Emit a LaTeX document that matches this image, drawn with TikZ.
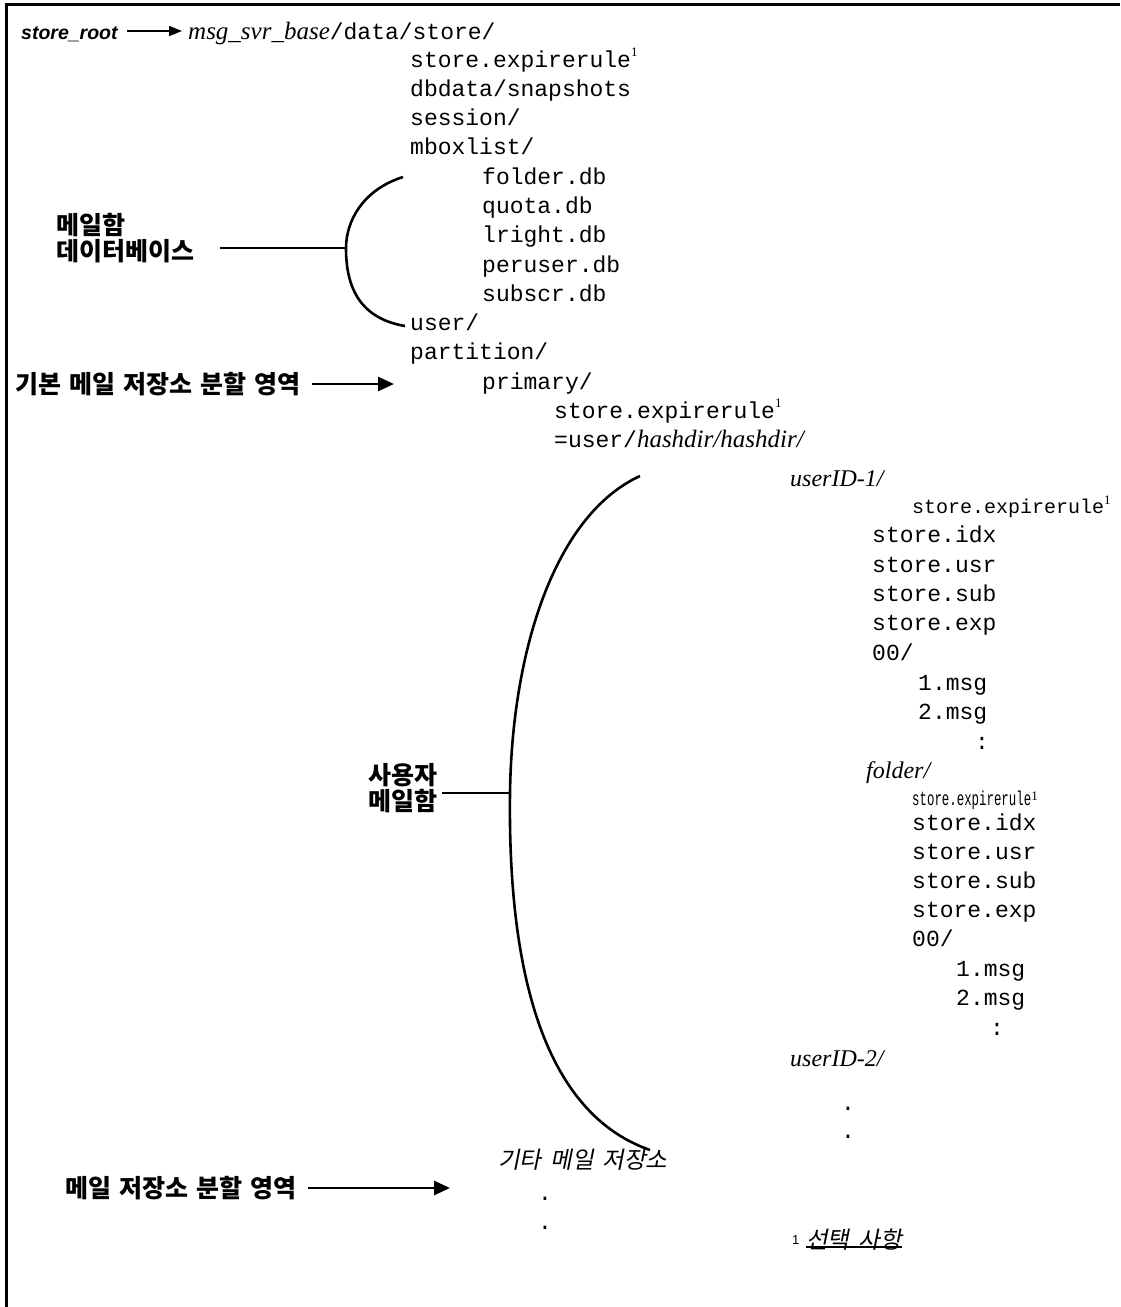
\documentclass[tikz,border=0pt]{standalone}
\usepackage{fontspec}
\usetikzlibrary{arrows.meta}
\newfontfamily\monof{Liberation Mono}
\newfontfamily\serf{Liberation Serif}
\newfontfamily\sansf{Liberation Sans}
\newfontfamily\krf{Noto Sans CJK KR}
\newfontfamily\krif[FakeSlant=0.2]{Noto Sans CJK KR}
\newcommand\supone{\raisebox{0.45em}{\serf\fontsize{13}{13}\selectfont 1}}
\newcommand\ksp{\hspace{8pt}}
\newcommand\isp{\hspace{9pt}}
\tikzset{
  mono/.style={font=\monof\fontsize{23}{23}\selectfont, anchor=base west, inner sep=0pt},
  monosm/.style={font=\monof\fontsize{20}{20}\selectfont, anchor=base west, inner sep=0pt},
  ital/.style={font=\serf\itshape\fontsize{24}{24}\selectfont, anchor=base west, inner sep=0pt},
  krlab/.style={font=\krf\bfseries\fontsize{25}{26}\selectfont, inner sep=0pt, align=left},
  krit/.style={font=\krif\fontsize{23.5}{23.5}\selectfont, anchor=base west, inner sep=0pt},
  brace/.style={line width=2.6pt},
  conn/.style={line width=2.6pt},
  bigarr/.style={line width=2.8pt, -{Triangle[length=16pt,width=14pt]}},
  smarr/.style={line width=1.8pt, -{Triangle[length=13pt,width=10pt]}},
}
\begin{document}
\begin{tikzpicture}[x=1pt,y=-1pt]
\useasboundingbox (0,0) rectangle (1120,1307);
\draw[line width=3pt] (6,1307) -- (6,4) -- (1120,4);

% first line
\node[font=\sansf\bfseries\itshape\fontsize{19.5}{19.5}\selectfont, anchor=base west, inner sep=0pt] (root) at (21,39) {store\_root};
\node[anchor=base west, inner sep=0pt] (base) at (188,39) {{\serf\itshape\fontsize{25}{25}\selectfont msg\_svr\_base}{\monof\fontsize{23}{23}\selectfont/data/store/}};
\draw[smarr] ([xshift=9pt]root.east |- 0,31) -- ([xshift=-6pt]base.west |- 0,31);

% store listing
\node[mono] (l1) at (410,67) {store.expirerule\supone};
\node[mono] (l2) at (410,96) {dbdata/snapshots};
\node[mono] (l3) at (410,125) {session/};
\node[mono] (l4) at (410,154) {mboxlist/};
\node[mono] (l5) at (482,184) {folder.db};
\node[mono] (l6) at (482,213) {quota.db};
\node[mono] (l7) at (482,242) {lright.db};
\node[mono] (l8) at (482,272) {peruser.db};
\node[mono] (l9) at (482,301) {subscr.db};
\node[mono] (l10) at (410,330) {user/};
\node[mono] (l11) at (410,359) {partition/};
\node[mono] (l12) at (482,389) {primary/};
\node[mono] (l13) at (554,418) {store.expirerule\supone};
\node[mono] (l14) at (554,447) {=user/{\serf\itshape\fontsize{25}{25}\selectfont hashdir/hashdir/}};

% userID-1
\node[ital] (u1) at (790,486) {userID-1/};
\node[monosm] (u1a) at (912,513) {store.expirerule\supone};
\node[mono] (u1b) at (872,542) {store.idx};
\node[mono] (u1c) at (872,572) {store.usr};
\node[mono] (u1d) at (872,601) {store.sub};
\node[mono] (u1e) at (872,630) {store.exp};
\node[mono] (u1f) at (872,660) {00/};
\node[mono] (u1g) at (918,690) {1.msg};
\node[mono] (u1h) at (918,719) {2.msg};
\node[mono] (u1i) at (975,749) {:};

% folder
\node[ital] (f0) at (866,778) {folder/};
\node[anchor=base west, inner sep=0pt] (f1) at (912,805) {\scalebox{0.62}[1]{\monof\fontsize{20}{20}\selectfont store.expirerule}\supone};
\node[mono] (f2) at (912,830) {store.idx};
\node[mono] (f3) at (912,859) {store.usr};
\node[mono] (f4) at (912,888) {store.sub};
\node[mono] (f5) at (912,917) {store.exp};
\node[mono] (f6) at (912,946) {00/};
\node[mono] (f7) at (956,976) {1.msg};
\node[mono] (f8) at (956,1005) {2.msg};
\node[mono] (f9) at (990,1035) {:};

% userID-2
\node[ital] (u2) at (790,1066) {userID-2/};
\node[mono] (d1) at (841,1110) {.};
\node[mono] (d2) at (841,1138) {.};

% other stores
\node[krit] (other) at (498,1168) {기타\isp 메일\isp 저장소};
\node[mono] (d3) at (538,1200) {.};
\node[mono] (d4) at (538,1229) {.};

% footnote
\node[anchor=base west, inner sep=0pt, font=\sansf\fontsize{13}{13}\selectfont] (fn) at (792,1244) {1};
\node[krit] (opt) at (806,1248) {선택\isp 사항};
\draw[line width=1.3pt] ([yshift=3pt]opt.south west) -- ([yshift=3pt]opt.south east);

% mailbox database label & brace
\node[krlab, anchor=west] (dblab) at (56,238) {메일함\\데이터베이스};
\coordinate (b1t) at (403,177);
\coordinate (b1m) at (346,248);
\coordinate (b1b) at (405,326);
\draw[brace] (b1t) .. controls (362,190) and (346,222) .. (b1m) .. controls (346,285) and (358,318) .. (b1b);
\draw[conn] ([xshift=26pt]dblab.east |- b1m) -- (b1m);

% primary partition label
\node[krlab, anchor=west] (prim) at (15,384) {기본\ksp 메일\ksp 저장소\ksp 분할\ksp 영역};
\coordinate (pa) at (394,384);
\draw[bigarr] ([xshift=12pt]prim.east) -- (pa);

% user mailbox label & brace
\node[krlab, anchor=west] (ulab) at (368,788) {사용자\\메일함};
\coordinate (b2t) at (640,476);
\coordinate (b2m) at (510,793);
\coordinate (b2b) at (650,1150);
\draw[brace] (b2t) .. controls (555,515) and (512,650) .. (b2m) .. controls (508,950) and (535,1110) .. (b2b);
\draw[conn] ([xshift=5pt]ulab.east |- b2m) -- (b2m);

% mail store partition label
\node[krlab, anchor=west] (part) at (65,1188) {메일\ksp 저장소\ksp 분할\ksp 영역};
\coordinate (pb) at (450,1188);
\draw[bigarr] ([xshift=12pt]part.east) -- (pb);
\end{tikzpicture}
\end{document}
